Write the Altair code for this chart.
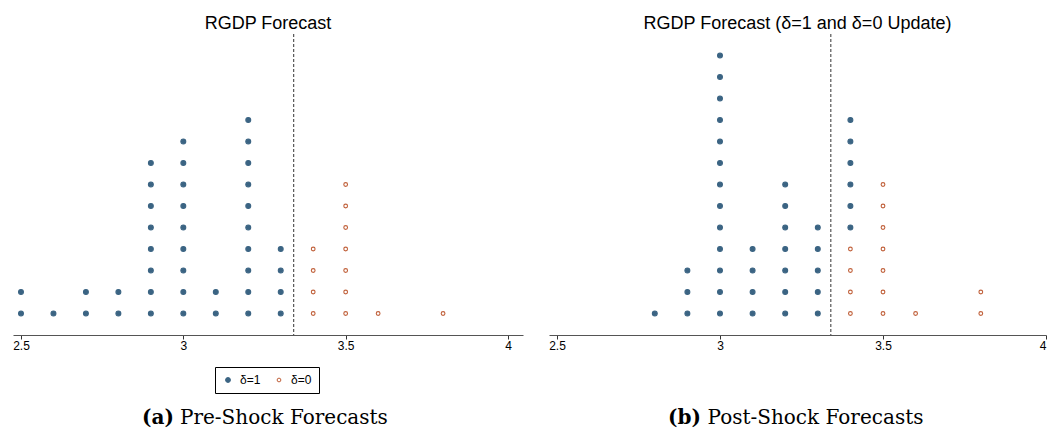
import altair as alt
import pandas as pd

# ---- data (value, number of forecasters at that value) ----
pre_d1_x = [2.5, 2.6, 2.7, 2.8, 2.9, 3.0, 3.1, 3.2, 3.3]
pre_d1_n = [2, 1, 2, 2, 8, 9, 2, 10, 4]
pre_d0_x = [3.4, 3.5, 3.6, 3.8]
pre_d0_n = [4, 7, 1, 1]

post_d1_x = [2.8, 2.9, 3.0, 3.1, 3.2, 3.3, 3.4]
post_d1_n = [1, 3, 13, 4, 7, 5, 6]
post_d0_x = [3.4, 3.5, 3.6, 3.8]
post_d0_n = [4, 7, 1, 2]

vline_value = [3.34]
tick_values = [2.5, 3, 3.5, 4]
series_labels = ["δ=1", "δ=0"]
titles = ["RGDP Forecast", "RGDP Forecast (δ=1 and δ=0 Update)"]
caption_tags = ["(a)", "(b)"]
caption_texts = ["Pre-Shock Forecasts", "Post-Shock Forecasts"]

BLUE = "#3b6483"
ORANGE = "#c0603a"


def stack(d1x, d1n, d0x, d0n):
    rows = []
    count = {}
    # δ=0 stacked first (bottom), δ=1 on top
    for xs, ns, lab in [(d0x, d0n, "δ=0"), (d1x, d1n, "δ=1")]:
        for x, n in zip(xs, ns):
            for _ in range(n):
                c = count.get(x, 0) + 1
                count[x] = c
                rows.append({"x": x, "row": c, "delta": lab})
    return pd.DataFrame(rows)


def panel(df, title, tag, text, width, xdom, legend_x, legend_y, tag_x, text_x):
    xenc = alt.X(
        "x:Q",
        scale=alt.Scale(domain=xdom, nice=False, zero=False),
        axis=alt.Axis(values=tick_values, format="~g", title=None, grid=False),
    )
    legend = alt.Legend(
        orient="none", legendX=legend_x, legendY=legend_y, direction="horizontal",
        columns=2, title=None, strokeColor="black", padding=7,
        labelFont="Liberation Sans", labelFontSize=12, labelColor="black",
        labelOffset=6, columnPadding=12, symbolStrokeWidth=1,
    )
    dots = alt.Chart(df).mark_circle(opacity=1).encode(
        x=xenc,
        y=alt.Y("row:Q", scale=alt.Scale(domain=[0, 14], nice=False), axis=None),
        fill=alt.Fill("delta:N", scale=alt.Scale(domain=series_labels, range=[BLUE, "white"]), legend=legend),
        stroke=alt.Stroke("delta:N", scale=alt.Scale(domain=series_labels, range=[BLUE, ORANGE])),
        size=alt.Size("delta:N", scale=alt.Scale(domain=series_labels, range=[24, 14])),
        strokeWidth=alt.value(1.1),
    )
    rule = alt.Chart(pd.DataFrame({"x": vline_value})).mark_rule(
        color="#333333", strokeDash=[3, 2], strokeWidth=1
    ).encode(x="x:Q")
    cap_a = alt.Chart(pd.DataFrame({"t": [tag]})).mark_text(
        font="DejaVu Serif", fontSize=20, fontWeight="bold", align="left",
        baseline="alphabetic", color="black",
    ).encode(text="t:N", x=alt.value(tag_x), y=alt.value(390))
    cap_b = alt.Chart(pd.DataFrame({"t": [text]})).mark_text(
        font="DejaVu Serif", fontSize=20, fontWeight="normal", align="left",
        baseline="alphabetic", color="black",
    ).encode(text="t:N", x=alt.value(text_x), y=alt.value(390))
    return alt.layer(rule, dots, cap_a, cap_b).properties(
        width=width, height=301,
        title=alt.Title(title, fontSize=18, font="Liberation Sans", fontWeight="normal",
                        color="black", anchor="middle", offset=-13, baseline="alphabetic",
                        frame="group"),
    )


left = panel(stack(pre_d1_x, pre_d1_n, pre_d0_x, pre_d0_n), titles[0], caption_tags[0],
             caption_texts[0], 510, [2.4754, 4.0462], 202, 333, 129, 167)
right = panel(stack(post_d1_x, post_d1_n, post_d0_x, post_d0_n), titles[1], caption_tags[1],
              caption_texts[1], 497, [2.4755, 4.0], 203, 332, 119, 158.5)

chart = alt.hconcat(left, right, spacing=25).properties(
    padding={"left": 4, "top": 6, "right": 0, "bottom": 0}
).configure_view(stroke=None).configure_axis(
    domainColor="#555555", domainWidth=1, tickColor="#333333", tickSize=4,
    labelFont="Liberation Sans", labelFontSize=12, labelColor="black", labelPadding=1,
)

chart.save("out.html", embed_options={"renderer": "svg", "actions": False})
